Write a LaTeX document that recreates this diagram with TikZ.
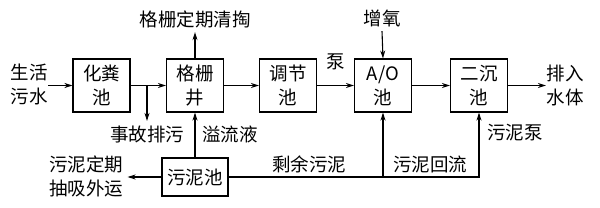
\documentclass[tikz,border=0pt]{standalone}
\usepackage{fontspec}
\setmainfont{Noto Sans CJK SC}
\usetikzlibrary{arrows.meta}

\begin{document}
\begin{tikzpicture}[x=1pt, y=-1pt, line width=1.1pt,
  font=\fontsize{18.5}{24}\selectfont,
  pool/.style={draw, minimum width=57pt, minimum height=53pt, align=center, inner sep=0pt},
  lbl/.style={align=center, inner sep=0pt},
  flow/.style={-{Stealth[length=8pt,width=5pt]}}]

\useasboundingbox (0,0) rectangle (600,207);

% treatment line
\node[pool] (hf) at (101.5,85.5) {化粪\\池};
\node[pool] (gs) at (195,85.5) {格栅\\井};
\node[pool] (tj) at (288,85.5) {调节\\池};
\node[pool] (ao) at (383,85.5) {A/O\\池};
\node[pool] (ec) at (479,85.5) {二沉\\池};
\node[draw, lbl, minimum width=66pt, minimum height=38pt] (wn) at (195,177) {污泥池};

% texts
\node[lbl] (src) at (29,84) {生活\\污水};
\node[lbl] (out) at (565,85) {排入\\水体};
\node[lbl, inner sep=4pt] (clean) at (195,19) {格栅定期清掏};
\node[lbl, inner sep=4pt] (oxy) at (382,18) {增氧};
\node[lbl] (pump) at (336,62) {泵};
\node[lbl, inner sep=4pt] (acc) at (147,134) {事故排污};
\node[lbl] (ovf) at (230,134) {溢流液};
\node[lbl] (mud) at (515,133) {污泥泵};
\node[lbl, inner sep=4pt] (disp) at (86,176) {污泥定期\\抽吸外运};
\node[lbl] (rem) at (309,164) {剩余污泥};
\node[lbl] (ret) at (430,164) {污泥回流};

% main flow
\draw[flow] (src.east |- hf.west) -- (hf.west);
\draw[flow] (hf) -- (gs);
\draw[flow] (gs) -- (tj);
\draw[flow] (tj) -- (ao);
\draw[flow] (ao) -- (ec);
\draw[flow] (ec.east) -- (out.west |- ec.east);

% side flows
\coordinate (br) at (hf.east -| acc.north);
\draw[flow] (br) -- (acc.north);
\draw[flow] (gs.north) -- (clean.south);
\draw[flow] (oxy.south) -- (ao.north);
\draw[flow] (wn.north) -- (gs.south);
\draw[flow] (wn.west) -- (disp.east |- wn.west);

% sludge return
\draw[flow] (wn.east) -| (ec.south);
\draw[flow] (wn.east -| ao.south) -- (ao.south);

\end{tikzpicture}
\end{document}
